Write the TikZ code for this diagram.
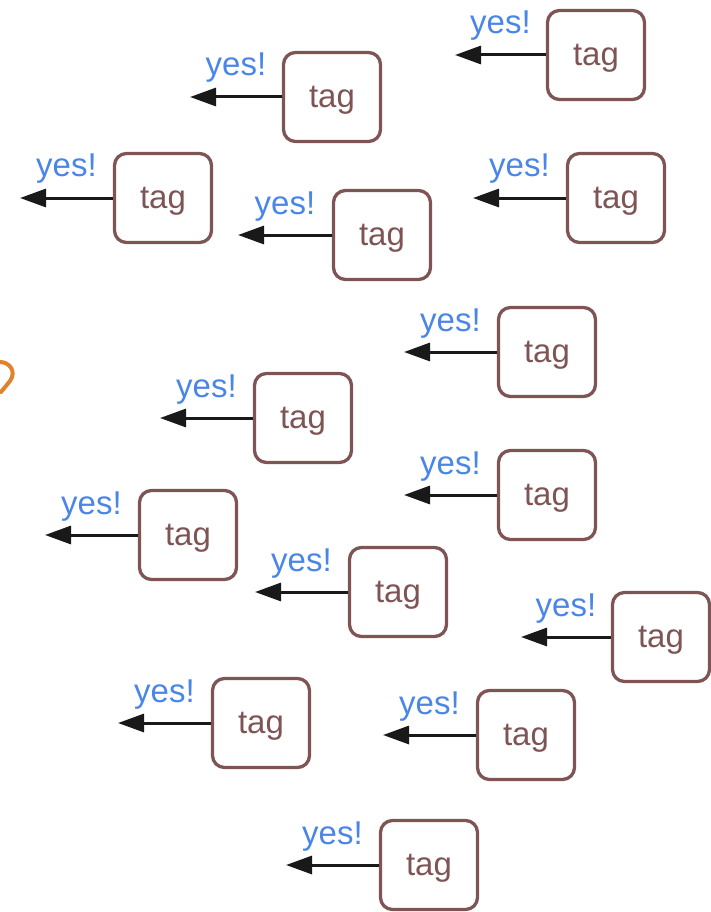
\documentclass[tikz,border=0pt]{standalone}
\usepackage{fontspec}
\setmainfont{Liberation Sans}
\usetikzlibrary{arrows.meta}
\definecolor{tagbrown}{HTML}{7E5454}
\definecolor{yesblue}{HTML}{4A86E8}
\definecolor{loopor}{HTML}{E0832F}
\tikzset{
    tagbox/.style={draw=tagbrown, line width=3.3pt, rounded corners=12pt,
        minimum width=97pt, minimum height=89pt, text=tagbrown, text depth=0pt,
        font=\fontsize{33}{36}\selectfont},
    yesarrow/.style={-{Triangle[length=26pt,width=18pt]}, line width=3pt, draw=black!90},
    yeslabel/.style={text=yesblue, font=\fontsize{33}{36}\selectfont, anchor=base, yshift=21pt, inner sep=0pt}
}
\begin{document}
\begin{tikzpicture}[x=1pt,y=-1pt]
            \useasboundingbox (0,0) rectangle (710,912);

            \node[tagbox] (T1) at (596,55) {tag};
            \node[tagbox] (T2) at (332,97) {tag};
            \node[tagbox] (T3) at (163,198) {tag};
            \node[tagbox] (T4) at (382,235) {tag};
            \node[tagbox] (T5) at (616,198) {tag};
            \node[tagbox] (T6) at (547,352) {tag};
            \node[tagbox] (T7) at (303,418) {tag};
            \node[tagbox] (T8) at (547,495) {tag};
            \node[tagbox] (T9) at (188,535) {tag};
            \node[tagbox] (T10) at (398,592) {tag};
            \node[tagbox] (T11) at (661,637) {tag};
            \node[tagbox] (T12) at (261,723) {tag};
            \node[tagbox] (T13) at (526,735) {tag};
            \node[tagbox] (T14) at (429,865) {tag};

            \coordinate (Y1) at (455,55);
            \coordinate (Y2) at (190,97);
            \coordinate (Y3) at (20,198);
            \coordinate (Y4) at (238,235);
            \coordinate (Y5) at (473,198);
            \coordinate (Y6) at (404,352);
            \coordinate (Y7) at (160,418);
            \coordinate (Y8) at (404,495);
            \coordinate (Y9) at (45,535);
            \coordinate (Y10) at (255,592);
            \coordinate (Y11) at (521,637);
            \coordinate (Y12) at (118,723);
            \coordinate (Y13) at (383,735);
            \coordinate (Y14) at (286,865);

            \draw[yesarrow] (T1.west) -- (Y1) node[midway, yeslabel]{yes!};
            \draw[yesarrow] (T2.west) -- (Y2) node[midway, yeslabel]{yes!};
            \draw[yesarrow] (T3.west) -- (Y3) node[midway, yeslabel]{yes!};
            \draw[yesarrow] (T4.west) -- (Y4) node[midway, yeslabel]{yes!};
            \draw[yesarrow] (T5.west) -- (Y5) node[midway, yeslabel]{yes!};
            \draw[yesarrow] (T6.west) -- (Y6) node[midway, yeslabel]{yes!};
            \draw[yesarrow] (T7.west) -- (Y7) node[midway, yeslabel]{yes!};
            \draw[yesarrow] (T8.west) -- (Y8) node[midway, yeslabel]{yes!};
            \draw[yesarrow] (T9.west) -- (Y9) node[midway, yeslabel]{yes!};
            \draw[yesarrow] (T10.west) -- (Y10) node[midway, yeslabel]{yes!};
            \draw[yesarrow] (T11.west) -- (Y11) node[midway, yeslabel]{yes!};
            \draw[yesarrow] (T12.west) -- (Y12) node[midway, yeslabel]{yes!};
            \draw[yesarrow] (T13.west) -- (Y13) node[midway, yeslabel]{yes!};
            \draw[yesarrow] (T14.west) -- (Y14) node[midway, yeslabel]{yes!};

            % piece of a loop cut by the left edge
            \draw[loopor, line width=4pt, line cap=round]
                (0,362) .. controls (9,362) and (17,371) .. (10,381) -- (1,392);

        \end{tikzpicture}
\end{document}
